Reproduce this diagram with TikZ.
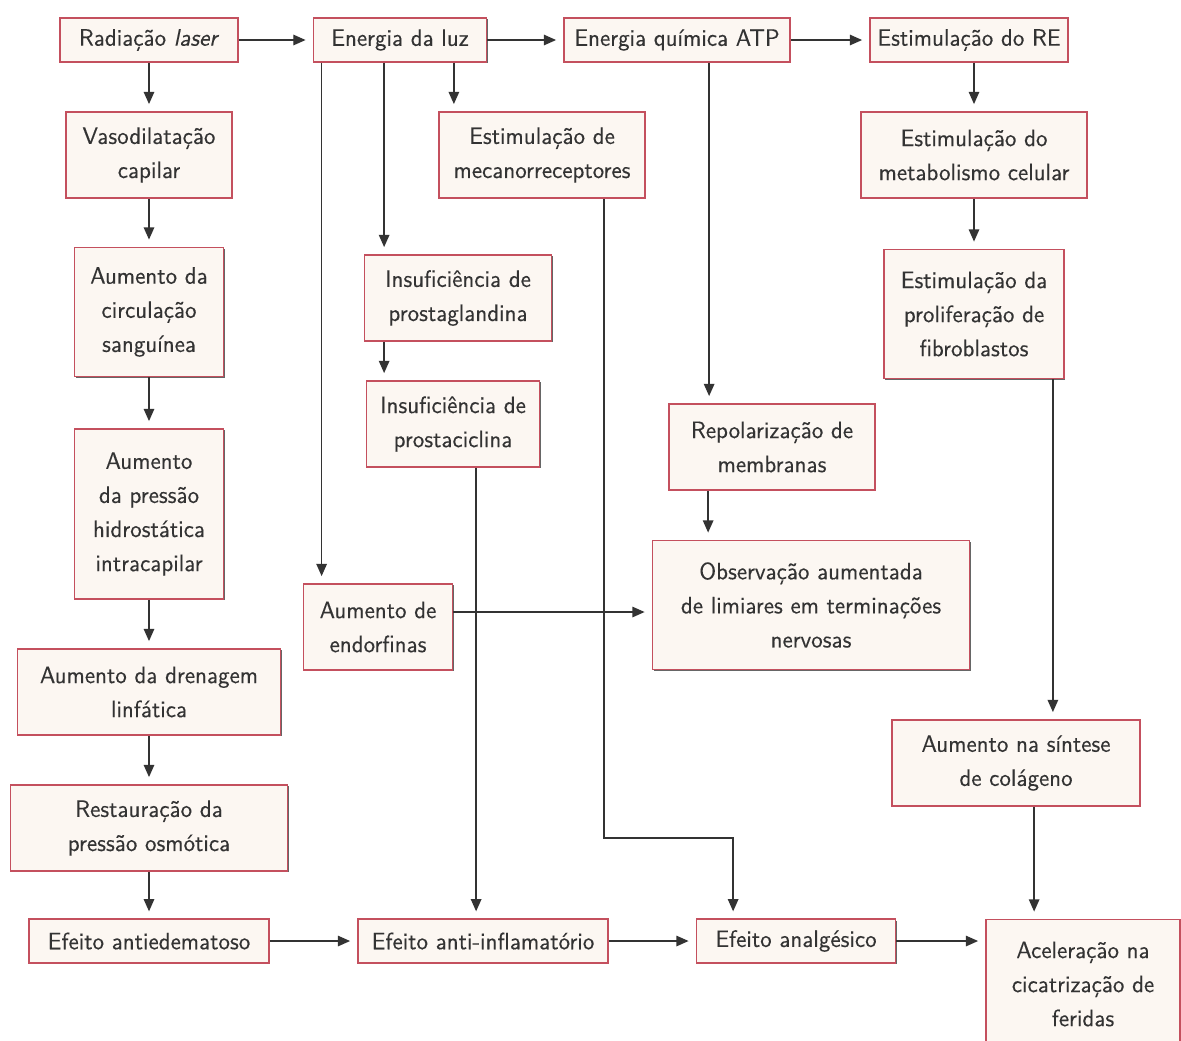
\documentclass[tikz,border=0pt]{standalone}
\usepackage{fontspec}
\setsansfont{lmsans10}[Extension=.otf, UprightFont=*-regular, ItalicFont=*-oblique, BoldFont=*-bold, FakeStretch=0.97, FakeBold=0.25]
\usepackage{tikz}
\usetikzlibrary{shapes,arrows,arrows.meta,shadows}
\definecolor{boxred}{HTML}{C4505E}
\definecolor{boxfill}{HTML}{FCF7F2}
\definecolor{inkgrey}{HTML}{333333}
\tikzstyle{block} = [draw=boxred, fill=boxfill, line width=1pt, align=center, inner sep=0pt, text=inkgrey, font=\sffamily\fontsize{13.5}{19.4}\selectfont, drop shadow={shadow xshift=0.7pt, shadow yshift=-0.7pt, fill=black!75, opacity=0.8}]
\tikzstyle{onebox} = [block, minimum height=0.87cm]
\tikzstyle{twobox} = [block, minimum height=1.72cm]
\tikzstyle{threebox} = [block, minimum height=2.58cm]
\tikzstyle{fourbox} = [block, minimum height=3.40cm]
\tikzstyle{link} = [draw=inkgrey, line width=0.8pt, -{Triangle[length=7pt,width=6pt]}, shorten >=4pt]

\begin{document}
\begin{tikzpicture}[auto]
		\useasboundingbox (0,0) rectangle (23.62,-20.80);
		\node [onebox, minimum width=3.56cm] (rad) at (2.98,-0.80) {Radiação \textit{laser}};
		\node [onebox, minimum width=3.46cm, right of=rad, node distance=5.02cm] (luz) {Energia da luz};
		\node [onebox, minimum width=4.52cm, right of=luz, node distance=5.54cm] (atp) {Energia química ATP};
		\node [onebox, minimum width=3.96cm, right of=atp, node distance=5.84cm] (re) {Estimulação do RE};
		
		\node [twobox, minimum width=3.32cm, below of=rad, node distance=2.30cm] (vaso) {Vasodilatação\\capilar};
		\node [threebox, minimum width=2.98cm, below of=vaso, node distance=3.14cm] (circ) {Aumento da\\circulação\\sanguínea};
		\node [fourbox, minimum width=2.98cm, below of=circ, node distance=4.04cm] (press) {Aumento\\da pressão\\hidrostática\\intracapilar};
		\node [twobox, minimum width=5.26cm, below of=press, node distance=3.56cm] (dren) {Aumento da drenagem\\linfática};
		\node [twobox, minimum width=5.54cm, below of=dren, node distance=2.72cm] (rest) {Restauração da\\pressão osmótica};
		\node [onebox, minimum width=4.80cm, below of=rest, node distance=2.26cm] (antied) {Efeito antiedematoso};
		\node [onebox, minimum width=5.00cm, right of=antied, node distance=6.68cm] (antiinf) {Efeito anti-inflamatório};
		\node [onebox, minimum width=3.98cm, right of=antiinf, node distance=6.26cm] (analg) {Efeito analgésico};
		\node [threebox, minimum width=3.88cm] (acel) at (21.66,-19.68) {Aceleração na\\cicatrização de\\feridas};
		
		\node [twobox, minimum width=4.12cm] (mecano) at (10.84,-3.10) {Estimulação de\\mecanorreceptores};
		\node [twobox, minimum width=3.74cm] (prostag) at (9.16,-5.96) {Insuficiência de\\prostaglandina};
		\node [twobox, minimum width=3.46cm] (prostac) at (9.06,-8.48) {Insuficiência de\\prostaciclina};
		\node [twobox, minimum width=2.98cm, inner ysep=0pt] (endorf) at (7.56,-12.54) {Aumento de\\endorfinas};
		\node [twobox, minimum width=4.12cm] (repol) at (15.44,-8.94) {Repolarização de\\membranas};
		\node [threebox, minimum width=6.34cm] (obs) at (16.22,-12.10) {Observação aumentada\\de limiares em terminações\\nervosas};
		
		\node [twobox, minimum width=4.52cm] (metab) at (19.48,-3.10) {Estimulação do\\metabolismo celular};
		\node [threebox, minimum width=3.60cm, below of=metab, node distance=3.18cm] (fibro) {Estimulação da\\proliferação de\\fibroblastos};
		\node [twobox, minimum width=4.96cm] (colag) at (20.32,-15.26) {Aumento na síntese\\de colágeno};
		
		\draw [link] (rad.east) -- (luz.west);
		\draw [link] (luz.east) -- (atp.west);
		\draw [link] (atp.east) -- (re.west);
		
		\draw [link] (rad.south) -- (vaso.north);
		\draw [link] (vaso.south) -- (circ.north);
		\draw [link] (circ.south) -- (press.north);
		\draw [link] (press.south) -- (dren.north);
		\draw [link] (dren.south) -- (rest.north);
		\draw [link] (rest.south) -- (antied.north);
		
		\draw [link] ([xshift=0.18cm]luz.south west) -- ([xshift=0.18cm]luz.south west |- endorf.north);
		\draw [link] ([xshift=1.43cm]luz.south west) -- ([xshift=1.43cm]luz.south west |- prostag.north);
		\draw [link] ([xshift=-0.67cm]luz.south east) -- ([xshift=-0.67cm]luz.south east |- mecano.north);
		\draw [link] ([xshift=0.41cm]prostag.south west) -- ([xshift=0.41cm]prostag.south west |- prostac.north);
		\draw [link] ([xshift=2.21cm]prostac.south west) -- ([xshift=2.21cm]prostac.south west |- antiinf.north);
		\draw [link] ([xshift=3.32cm]mecano.south west) |- ([xshift=0.75cm,yshift=1.61cm]analg.north west) -- ([xshift=0.75cm]analg.north west);
		
		\draw [link] ([xshift=2.92cm]atp.south west) -- ([xshift=2.92cm]atp.south west |- repol.north);
		\draw [link] ([xshift=0.80cm]repol.south west) -- ([xshift=0.80cm]repol.south west |- obs.north);
		\draw [link] ([yshift=0.30cm]endorf.east) -- ([yshift=0.30cm]endorf.east -| obs.west);
		
		\draw [link] (metab.north |- re.south) -- (metab.north);
		\draw [link] (metab.south) -- (fibro.north);
		\draw [link] ([xshift=-0.24cm]fibro.south east) -- ([xshift=-0.24cm]fibro.south east |- colag.north);
		\draw [link] ([xshift=2.86cm]colag.south west) -- ([xshift=2.86cm]colag.south west |- acel.north);
		
		\draw [link] (antied.east) -- (antiinf.west);
		\draw [link] (antiinf.east) -- (analg.west);
		\draw [link] (analg.east) -- (analg.east -| acel.west);
		
\end{tikzpicture}
\end{document}
